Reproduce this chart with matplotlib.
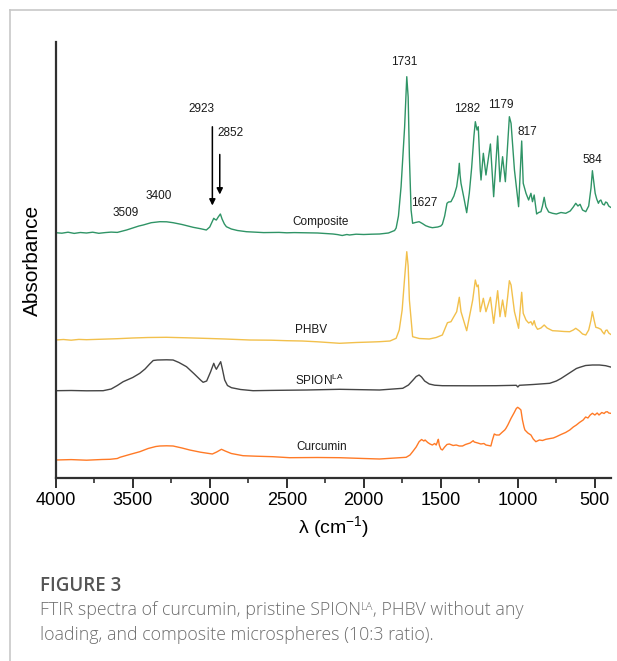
import matplotlib
matplotlib.use("Agg")
import matplotlib.pyplot as plt
from matplotlib.lines import Line2D

plt.rcParams['font.family'] = ['Liberation Sans', 'DejaVu Sans']
plt.rcParams['mathtext.fontset'] = 'custom'
plt.rcParams['mathtext.rm'] = 'Liberation Sans'
plt.rcParams['mathtext.it'] = 'Liberation Sans:italic'
plt.rcParams['mathtext.bf'] = 'Liberation Sans:bold'

# ---------------- data (wavenumber cm^-1, absorbance a.u. incl. vertical offset) ----------------
composite_wn = [4000, 3960, 3920, 3880, 3840, 3800, 3760, 3720, 3680, 3640, 3600, 3583, 3540, 3500,
                3460, 3432, 3380, 3324, 3280, 3238, 3180, 3108, 3060, 3022, 3000, 2985, 2974, 2965,
                2957, 2945, 2931, 2920, 2905, 2892, 2860, 2820, 2762, 2700, 2650, 2600, 2550, 2500,
                2450, 2417, 2350, 2300, 2250, 2200, 2170, 2140, 2110, 2093, 2050, 2000, 1950, 1898,
                1840, 1800, 1790, 1775, 1758, 1735, 1721, 1712, 1704, 1693, 1683, 1665, 1641, 1620,
                1598, 1575, 1555, 1520, 1500, 1490, 1475, 1460, 1450, 1434, 1415, 1397, 1385, 1380,
                1375, 1369, 1350, 1332, 1315, 1300, 1293, 1285, 1276, 1265, 1257, 1244, 1239, 1224,
                1207, 1178, 1157, 1131, 1116, 1099, 1081, 1066, 1055, 1044, 1022, 995, 975, 965, 947,
                930, 915, 905, 894, 878, 865, 850, 840, 829, 818, 800, 775, 750, 720, 689, 660, 640,
                624, 610, 596, 580, 559, 540, 525, 516, 507, 498, 488, 477, 470, 461, 450, 439, 430,
                421, 410, 398]
composite_ab = [245.3, 244.8, 245.8, 244.6, 245.5, 245, 245.8, 244.7, 245.4, 245.9, 245.6, 246.3, 248, 250,
                252, 253, 255.3, 256.3, 256.2, 255.3, 253.5, 250.7, 249.3, 248, 251, 256, 259.7, 258.5,
                258, 261, 264, 259, 254, 251.3, 249, 247.5, 246.3, 245.8, 245.4, 245.5, 245.6, 245.2,
                245.4, 245.3, 245, 245, 244.5, 244, 243.4, 242.5, 243.5, 243, 243.8, 243.5, 243.8, 244,
                245, 247.5, 250, 262, 291.3, 351, 401.3, 381, 321.3, 268, 254.7, 255.5, 256.3, 254.5,
                252.3, 251, 250.3, 251, 252, 253.7, 262, 274.7, 276, 276.3, 282, 291.3, 305, 314.7,
                303, 294.7, 280, 265.3, 285, 310, 324.7, 342, 356.3, 348, 351.3, 308, 298, 324.7,
                303, 334, 281.3, 342, 296.3, 321.3, 296.3, 334.7, 361.3, 354.7, 308, 271.3, 337, 294.7, 284.7,
                278, 284.7, 276.3, 283, 264, 265.5, 266.3, 272, 280.7, 271.3, 266, 264.7, 264, 265.5, 264.7, 267, 271,
                274.7, 272, 273.7, 268, 266.3, 272, 290, 307.3, 296, 284.7, 279, 274.7, 277, 278, 274, 273, 276,
                275.3, 272, 270.7]

phbv_wn = [4000, 3950, 3900, 3850, 3800, 3700, 3600, 3500, 3400, 3281, 3150, 3000, 2900, 2741,
           2600, 2500, 2400, 2300, 2157, 2050, 1950, 1898, 1830, 1790, 1770, 1751, 1735, 1721,
           1712, 1704, 1683, 1640, 1575, 1530, 1490, 1457, 1434, 1397, 1380, 1369, 1332, 1293,
           1276, 1265, 1257, 1244, 1224, 1207, 1178, 1157, 1131, 1116, 1099, 1081, 1066, 1055,
           1044, 1022, 995, 975, 965, 947, 930, 915, 905, 894, 885, 872, 850, 829, 810, 775,
           740, 700, 663, 640, 624, 600, 580, 559, 540, 525, 516, 505, 494, 478, 461, 450, 439,
           430, 421, 410, 398]
phbv_ab = [138, 138.5, 137.8, 138.6, 138.3, 138.8, 139.3, 140, 140.5, 140.7, 140.2, 139.5, 139, 138,
           137.8, 137.3, 137, 136.2, 134.7, 135.5, 136, 136.3, 137, 139.7, 148, 168, 200, 226.3,
           212, 178, 141.3, 139.5, 139, 140.5, 143, 155.3, 156.3, 166.3, 180.7, 166.3, 147.3, 178,
           198, 191.3, 193, 166.3, 179.7, 166.3, 180.7, 154.7, 187.3, 161.3, 178, 161.3, 181.3, 197.3,
           193, 166.3, 149.7, 185.7, 164.7, 158, 155, 156.3, 153, 157.3, 152, 148.7, 150, 153, 150, 147.3,
           147, 146.5, 146.3, 148, 149.7, 147, 144, 143, 148, 158, 166.3, 158, 150.7, 150, 148.7, 146, 144,
           147.5, 148, 145, 143.7]

spion_wn = [4000, 3900, 3800, 3692, 3640, 3600, 3562, 3500, 3454, 3420, 3390, 3367, 3340, 3280,
            3238, 3200, 3151, 3100, 3060, 3043, 3020, 2995, 2974, 2965, 2957, 2945, 2929, 2918,
            2903, 2885, 2859, 2800, 2719, 2600, 2373, 2157, 1898, 1747, 1710, 1680, 1660, 1641,
            1625, 1605, 1575, 1540, 1490, 1300, 1141, 1010, 1000, 990, 900, 793, 750, 720, 685,
            650, 620, 598, 560, 516, 470, 430, 398]
spion_ab = [87.3, 87.5, 87.2, 87.3, 89, 92.5, 96.3, 100.5, 104.7, 109, 114, 117.5, 118, 118.2,
            118, 115.5, 111.3, 104, 98, 95.7, 97, 106, 114.7, 111, 108.7, 112, 116.3, 109,
            98, 92.5, 90.3, 88.5, 87.3, 87.6, 88, 88.7, 88, 89.7, 93, 98, 101.5, 103,
            101, 97, 94, 92.8, 92.3, 92.2, 92.3, 92.7, 91, 92.7, 93.5, 94.7, 97, 99.5, 103,
            106.5, 109.5, 110.7, 112.5, 113, 113, 112.3, 111]

curcumin_wn = [4000, 3900, 3800, 3700, 3648, 3600, 3583, 3520, 3454, 3400, 3350, 3324, 3280, 3238,
               3180, 3130, 3060, 2983, 2955, 2924, 2900, 2860, 2784, 2700, 2590, 2482, 2300, 2157,
               2000, 1898, 1725, 1700, 1683, 1660, 1641, 1625, 1610, 1602, 1585, 1570, 1555, 1540,
               1530, 1520, 1516, 1510, 1500, 1490, 1475, 1460, 1445, 1420, 1400, 1380, 1359, 1340,
               1310, 1290, 1283, 1260, 1240, 1220, 1207, 1190, 1175, 1165, 1153, 1140, 1121, 1100,
               1085, 1077, 1065, 1044, 1025, 1010, 1001, 990, 980, 970, 960, 954, 935, 915, 900,
               883, 860, 840, 818, 790, 770, 750, 720, 690, 663, 640, 620, 600, 576, 560, 545,
               530, 516, 500, 485, 473, 455, 440, 430, 419, 410, 398]
curcumin_ab = [18, 18.4, 17.8, 18.5, 18.7, 19.5, 20.7, 23.5, 26.3, 29.5, 31.5, 32, 32.2, 32,
               30, 28, 25.8, 24, 26, 28.7, 27, 24.5, 22.3, 21.8, 21.3, 20.3, 20.5, 20.3,
               19.5, 19, 20.7, 23, 26.3, 31, 36.3, 38.5, 37, 38, 35.5, 34, 33, 34.5,
               33, 37, 38.7, 33, 29, 28, 31, 33.5, 34, 32.5, 33, 32, 32, 33.5,
               35, 37.3, 36, 35, 34, 34.5, 33, 32.5, 32, 38, 44, 43, 43, 46,
               48, 49.7, 53, 59.7, 65, 69.5, 70.7, 69.5, 68, 58, 51, 48, 45, 43, 39,
               36.3, 38, 37.5, 38.7, 39.5, 40, 41.3, 43.5, 45.5, 48, 51, 53, 55.5, 58, 61, 60,
               63, 64.7, 63, 65, 63, 65.5, 64.5, 66, 66.3, 65, 64.7]

peak_labels = ["3509", "3400", "2923", "2852", "1731", "1627", "1282", "1179", "817", "584"]
peak_label_x = [3544, 3330, 3054, 2866, 1736, 1607, 1332, 1109, 941, 516]
peak_label_y = [265, 282, 369, 345.3, 416.3, 275.3, 369, 373, 346.3, 318]

series_names = ["Composite", "PHBV", "SPION$^{\\mathrm{LA}}$", "Curcumin"]
series_label_x = [2462, 2449, 2449, 2438]
series_label_y = [256.3, 148, 98, 31.3]

arrow_x = [2983, 2935]
arrow_top = [354, 326.3]
arrow_tip = [269.7, 280.7]

x_ticks = [4000, 3500, 3000, 2500, 2000, 1500, 1000, 500]
x_minor = [3750, 3250, 2750, 2250, 1750, 1250, 750]

# ---------------- figure ----------------
W, H = 617, 661
fig = plt.figure(figsize=(W / 100, H / 100), dpi=100)
ax = fig.add_axes([55.7 / W, (H - 478) / H, (611.5 - 55.7) / W, (478 - 42) / H])

colors = ['#2f9466', '#f2c04c', '#454545', '#ff7a26']
for wn, ab, c in zip([composite_wn, phbv_wn, spion_wn, curcumin_wn],
                     [composite_ab, phbv_ab, spion_ab, curcumin_ab], colors):
    ax.plot(wn, ab, color=c, lw=1.0)

ax.set_xlim(4000, 392)
ax.set_ylim(0, 436)
ax.set_xticks(x_ticks)
ax.set_xticks(x_minor, minor=True)
ax.set_yticks([])
for s in ['top', 'right']:
    ax.spines[s].set_visible(False)
for s in ['left', 'bottom']:
    ax.spines[s].set_linewidth(1.6)
    ax.spines[s].set_color('#303030')
ax.tick_params(axis='x', which='major', length=7, width=1.4, labelsize=13, pad=3, color='#303030')
ax.tick_params(axis='x', which='minor', length=3.5, width=1.2, color='#303030')
ax.set_xlabel('λ (cm$^{-1}$)', fontsize=14, labelpad=4)
ax.set_ylabel('Absorbance', fontsize=15, labelpad=10)

for t, x, y in zip(peak_labels, peak_label_x, peak_label_y):
    ax.text(x, y, t, fontsize=8.5, ha='center', va='center', color='#1a1a1a')
for t, x, y in zip(series_names, series_label_x, series_label_y):
    ax.text(x, y, t, fontsize=8.5, ha='left', va='center', color='#1a1a1a')
for x, y0, y1 in zip(arrow_x, arrow_top, arrow_tip):
    ax.annotate('', xy=(x, y1), xytext=(x, y0),
                arrowprops=dict(arrowstyle='-|>', color='black', lw=1.1, mutation_scale=9))

# card border
fig.add_artist(Line2D([9.5 / W, 1], [1 - 10 / H, 1 - 10 / H], color='#c8c8c8', lw=1.2))
fig.add_artist(Line2D([9.5 / W, 9.5 / W], [0, 1 - 10 / H], color='#c8c8c8', lw=1.2))

# caption
cap_font = ['Open Sans', 'DejaVu Sans']
cap_col = '#6e6e6e'
fig.text(40 / W, 1 - 586 / H, 'FIGURE 3', fontsize=13.5, family=cap_font, weight='semibold',
         color='#555555', va='center', ha='left')
t1 = fig.text(40 / W, 1 - 610 / H, 'FTIR spectra of curcumin, pristine SPION', fontsize=12.8,
              family=cap_font, weight='light', color=cap_col, va='center', ha='left')
sup = fig.axes[0].annotate('LA', xy=(1.0, 0.95), xycoords=t1, fontsize=8, family=cap_font,
                           weight='light', color=cap_col, va='top', ha='left',
                           annotation_clip=False)
fig.axes[0].annotate(', PHBV without any', xy=(1.0, 0.0), xycoords=(sup, t1), fontsize=12.8,
                     family=cap_font, weight='light', color=cap_col, va='bottom', ha='left',
                     annotation_clip=False)
fig.text(40 / W, 1 - 635 / H, 'loading, and composite microspheres (10:3 ratio).', fontsize=12.8,
         family=cap_font, weight='light', color=cap_col, va='center', ha='left')

fig.savefig('out.png', dpi=100)
